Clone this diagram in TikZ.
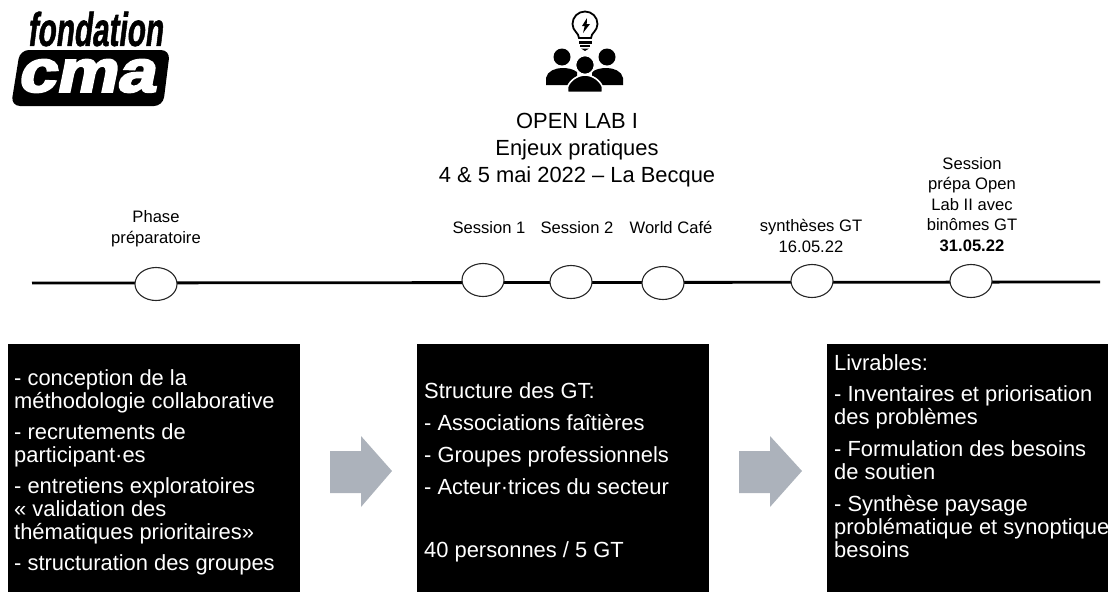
\documentclass[tikz,border=0pt]{standalone}
\usepackage{fontspec}
\setmainfont{Liberation Sans}
\newfontfamily\logofont[UprightFeatures={FakeBold=1.5}]{Liberation Sans Bold}
\newfontfamily\logofontb[UprightFeatures={FakeBold=3.5}]{Liberation Sans Bold}
\usetikzlibrary{shapes.geometric}
\definecolor{arrowgray}{RGB}{172,178,187}
\tikzset{
  lab/.style={font=\fontsize{16.6}{20.5}\selectfont,align=center,text=black,inner sep=0pt,anchor=base},
  title/.style={font=\fontsize{21.9}{27}\selectfont,align=center,text=black,inner sep=0pt},
  circ/.style={draw=black!85,line width=1.1pt,fill=white,ellipse,inner sep=0pt,minimum width=42pt,minimum height=33pt},
  body/.style={text=white,align=left,anchor=north west,inner sep=0pt,font=\fontsize{21.9}{23}\selectfont},
  garrow/.style={fill=arrowgray,draw=none},
}
\begin{document}
\begin{tikzpicture}[x=1pt,y=-1pt]
\useasboundingbox (0,0) rectangle (1108,592);
% timeline
\coordinate (tl) at (32,283);
\coordinate (tr) at (1100,282);
\draw[line width=2.8pt,black] (tl) -- (tr);
\node[circ] (c1) at (156,284) {};
\node[circ] (c2) at (483,280) {};
\node[circ] (c3) at (571,282) {};
\node[circ] (c4) at (663,283) {};
\node[circ] (c5) at (812,281) {};
\node[circ] (c6) at (971,281) {};
% labels
\node[lab,anchor=center] (l1) at (156,228.5) {Phase\\préparatoire};
\node[lab] (l2) at (489,233) {Session 1};
\node[lab] (l3) at (577,233) {Session 2};
\node[lab] (l4) at (671,233) {World Café};
\node[lab,anchor=center] (l5) at (811,236) {synthèses GT\\16.05.22};
\node[lab,anchor=center] (l6) at (972,204.5) {Session\\prépa Open\\Lab II avec\\binômes GT\\\textbf{31.05.22}};
\node[title] (t) at (577,150) {OPEN LAB I\\Enjeux pratiques\\4 \& 5 mai 2022 – La Becque};
% boxes
\fill[black] (8,344) rectangle (300,592);
\fill[black] (417,344) rectangle (709,592);
\fill[black] (827,344) rectangle (1108,592);
\node[body] (b1) at (14,369) {- conception de la\\méthodologie collaborative\\[8pt]- recrutements de\\participant·es\\[8pt]- entretiens exploratoires\\« validation des\\thématiques prioritaires»\\[8.5pt]- structuration des groupes};
\node[body] (b2) at (424,382) {Structure des GT:\\[9pt]- Associations faîtières\\[9pt]- Groupes professionnels\\[9pt]- Acteur·trices du secteur\\[40pt]40 personnes / 5 GT};
\node[body] (b3) at (834,354) {Livrables:\\[8pt]- Inventaires et priorisation\\des problèmes\\[9pt]- Formulation des besoins\\de soutien\\[9pt]- Synthèse paysage\\problématique et synoptique\\besoins};
% arrows
\fill[garrow] (330,451) -- (361,451) -- (361,436) -- (392,471) -- (361,507) -- (361,493) -- (330,493) -- cycle;
\fill[garrow] (739,451) -- (770,451) -- (770,436) -- (802,471) -- (770,507) -- (770,493) -- (739,493) -- cycle;
% logo
\fill[black,rounded corners=9pt] (20,50) -- (170,50) -- (163,106) -- (11,106) -- cycle;
\node[inner sep=0pt,font=\logofont\fontsize{27}{27}\selectfont,xscale=1.1,yscale=1.75,xslant=0.2] (logo1) at (97,29) {fondation};
\node[inner sep=0pt,text=white,font=\logofontb\fontsize{44}{44}\selectfont,xscale=1.56,yscale=1.36,xslant=0.18] (logo2) at (89,76) {cma};
% icon
\draw[black,line width=1.8pt] (579,38) .. controls (579,33) and (572.5,31) .. (572.5,24) .. controls (572.5,17) and (578,11.5) .. (585,11.5) .. controls (592,11.5) and (597.5,17) .. (597.5,24) .. controls (597.5,31) and (591,33) .. (591,38) -- cycle;
\fill[black] (587,18) -- (582,26) -- (584.7,26) -- (583,33) -- (590,24) -- (586.7,24) -- cycle;
\fill[black] (578.5,41) rectangle (591.5,43.5);
\fill[black] (580,45) rectangle (590,47);
\fill[black] (581,48.5) -- (589,48.5) -- (585,51) -- cycle;
\fill[black] (562,57) circle (8.5);
\fill[black] (607,57) circle (8.5);
\fill[black] (546,85) -- (546,78) .. controls (547,71) and (556,68) .. (562,68) .. controls (568,68) and (573,69) .. (577,72) -- (577,85) -- cycle;
\fill[black] (623,85) -- (623,78) .. controls (622,71) and (613,68) .. (607,68) .. controls (601,68) and (596,69) .. (592,72) -- (592,85) -- cycle;
\fill[black,draw=white,line width=1.6pt] (585,65) circle (9.5);
\fill[black,draw=white,line width=1.6pt] (567.5,92.5) -- (567.5,87) .. controls (570,80) and (578,75) .. (585,75) .. controls (592,75) and (600,80) .. (602.5,87) -- (602.5,92.5) -- cycle;
\end{tikzpicture}
\end{document}
